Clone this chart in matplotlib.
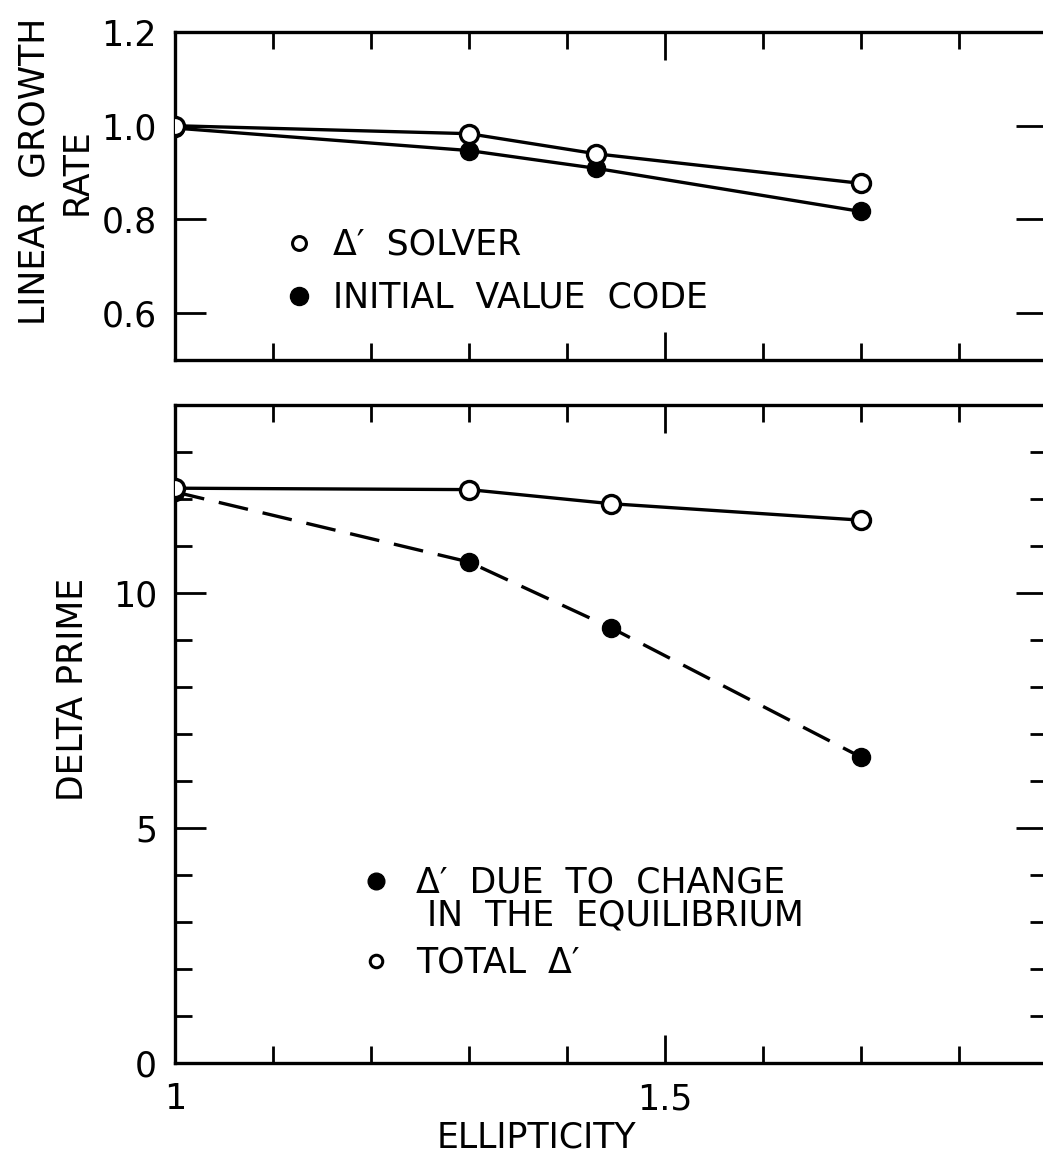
import numpy as np
import matplotlib
matplotlib.use("Agg")
from matplotlib import pyplot as plt
from matplotlib.lines import Line2D
from matplotlib.ticker import MultipleLocator

# top panel: linear growth rate vs ellipticity
x_top = [1.0, 1.3, 1.43, 1.7]
rate_solver = [1.0, 0.983, 0.94, 0.877]
rate_ivc = [0.995, 0.947, 0.909, 0.817]

# bottom panel: delta prime vs ellipticity
x_bot = [1.0, 1.3, 1.445, 1.7]
dp_total = [12.23, 12.2, 11.9, 11.55]
dp_equil = [12.15, 10.66, 9.26, 6.51]

xticks_major = [1.0, 1.5]
xtick_labels = ["1", "1.5"]
yticks_top = [0.6, 0.8, 1.0, 1.2]
yticks_bot = [0, 5, 10]

plt.rcParams['font.family'] = ['DejaVu Sans']
fs = 25
lw = 2.4

fig = plt.figure(figsize=(10.43, 11.66), dpi=100)
W, H = 1043., 1166.
left = 175 / W
right = 1047 / W
ax1 = fig.add_axes([left, (H - 360) / H, right - left, 328 / H])
ax2 = fig.add_axes([left, (H - 1063) / H, right - left, 658 / H])


def style(ax):
    for s in ax.spines.values():
        s.set_linewidth(2.4)
    ax.set_xlim(1.0, 1.89)
    ax.xaxis.set_major_locator(plt.FixedLocator(xticks_major))
    ax.xaxis.set_minor_locator(MultipleLocator(0.1))
    ax.tick_params(which="both", direction="in", top=True, right=True,
                   width=2, labelsize=fs, colors="black")
    ax.tick_params(axis="x", which="major", length=20, pad=14)
    ax.tick_params(axis="x", which="minor", length=12)
    ax.tick_params(axis="y", which="major", length=22, pad=13)
    ax.tick_params(axis="y", which="minor", length=12)


style(ax1)
style(ax2)

# top panel
ax1.plot(x_top, rate_ivc, "-", color="black", lw=lw, marker="o", ms=13,
         mfc="black", mec="black", zorder=3)
ax1.plot(x_top, rate_solver, "-", color="black", lw=lw, marker="o", ms=13,
         mfc="white", mec="black", mew=2.4, zorder=4)
ax1.set_ylim(0.5, 1.2)
ax1.set_yticks(yticks_top)
ax1.set_yticklabels(["%.1f" % v for v in yticks_top])
ax1.tick_params(axis="x", labelbottom=False)
ax1.set_ylabel("LINEAR  GROWTH\nRATE", fontsize=fs, linespacing=1.3)
ax1.yaxis.set_label_coords(-0.093, 0.575)

h_open = Line2D([], [], ls="none", marker="o", ms=10, mfc="white",
                mec="black", mew=2.2)
h_fill = Line2D([], [], ls="none", marker="o", ms=13, mfc="black",
                mec="black")
ax1.legend([h_open, h_fill], ["\u0394\u2032  SOLVER", "INITIAL  VALUE  CODE"],
           loc="center left", bbox_to_anchor=(0.122, 0.27), frameon=False,
           fontsize=fs, handlelength=1.0, handletextpad=0.5,
           labelspacing=0.55, borderpad=0, borderaxespad=0)

# bottom panel
ax2.plot(x_bot, dp_equil, color="black", lw=lw, ls=(0, (9, 4.5)), marker="o",
         ms=13, mfc="black", mec="black", zorder=3)
ax2.plot(x_bot, dp_total, "-", color="black", lw=lw, marker="o", ms=13,
         mfc="white", mec="black", mew=2.4, zorder=4)
ax2.set_ylim(0, 14)
ax2.set_yticks(yticks_bot)
ax2.yaxis.set_minor_locator(MultipleLocator(1))
ax2.set_xticks(xticks_major)
ax2.set_xticklabels(xtick_labels)
ax2.set_ylabel("DELTA PRIME", fontsize=fs)
ax2.yaxis.set_label_coords(-0.097, 0.567)
ax2.text(0.415, -0.113, "ELLIPTICITY", transform=ax2.transAxes,
         fontsize=fs, ha="center", va="center")

h_fill2 = Line2D([], [], ls="none", marker="o", ms=12, mfc="black",
                 mec="black")
h_open2 = Line2D([], [], ls="none", marker="o", ms=9, mfc="white",
                 mec="black", mew=2.2)
ax2.legend([h_fill2, h_open2],
           ["\u0394\u2032  DUE  TO  CHANGE", "TOTAL  \u0394\u2032"],
           loc="center left", bbox_to_anchor=(0.211, 0.213), frameon=False,
           fontsize=fs, handlelength=1.0, handletextpad=0.64,
           labelspacing=1.32, borderpad=0, borderaxespad=0)
ax2.text(0.289, 0.224, "IN  THE  EQUILIBRIUM", transform=ax2.transAxes,
         fontsize=fs, ha="left", va="center")

plt.savefig("out.png", dpi=100)
